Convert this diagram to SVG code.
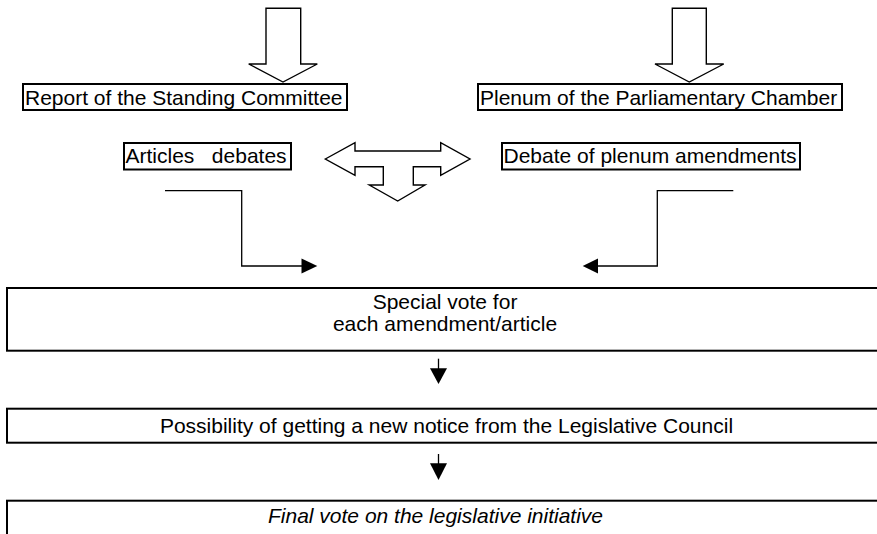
<svg xmlns="http://www.w3.org/2000/svg" width="877" height="534" viewBox="0 0 877 534">
<style>
.box{fill:#fff;stroke:#000;stroke-width:2}
.blk{fill:#fff;stroke:#000;stroke-width:1.4;stroke-linejoin:miter}
.ln{fill:none;stroke:#000;stroke-width:1.3}
.hd{fill:#000;stroke:none}
text{font-family:"Liberation Sans",Arial,sans-serif;font-size:21px;fill:#000}
.c{text-anchor:middle}
</style>
<rect width="877" height="534" fill="#fff"/>
<g id="arrow-in-left"><polygon class="blk" points="266,8.3 300.7,8.3 300.7,64 317.3,64 283,82 248.7,64 266,64"/></g>
<g id="arrow-in-right"><polygon class="blk" points="672.3,8.3 706.3,8.3 706.3,64 723.7,64 689.3,82 655,64 672.3,64"/></g>
<g id="report"><rect class="box" x="23" y="84" width="324" height="26"/><text x="25" y="105">Report of the Standing Committee</text></g>
<g id="plenum"><rect class="box" x="478" y="84" width="364" height="26"/><text x="480" y="105">Plenum of the Parliamentary Chamber</text></g>
<g id="articles"><rect class="box" x="124" y="143" width="167" height="26.5"/><text x="125.5" y="163" xml:space="preserve" style="white-space:pre">Articles   debates</text></g>
<g id="debate"><rect class="box" x="502" y="143" width="298" height="26.5"/><text x="503.5" y="163">Debate of plenum amendments</text></g>
<g id="t-arrow"><polygon class="blk" points="325.3,159 355,142.7 355,151 440.7,151 440.7,142.7 470,159 440.7,175.3 440.7,166.7 413.3,166.7 413.3,185 425,185 397.7,201 369.3,185 383.3,185 383.3,166.7 355,166.7 355,175.3"/></g>
<g id="special-vote"><rect class="box" x="7" y="288" width="880" height="62.7"/><text class="c" x="445" y="308.5">Special vote for</text><text class="c" x="445" y="331">each amendment/article</text></g>
<g id="possibility"><rect class="box" x="7" y="408.7" width="880" height="34"/><text class="c" x="446.5" y="432.5">Possibility of getting a new notice from the Legislative Council</text></g>
<g id="final-vote"><rect class="box" x="7" y="500.7" width="880" height="50"/><text x="268" y="523.3" font-style="italic">Final vote on the legislative initiative</text></g>
<g id="connectors">
<path class="ln" d="M165,190.7 H241.7 V266 H303"/>
<polygon class="hd" points="301.5,258.5 317.3,266 301.5,273.5"/>
<path class="ln" d="M733.3,190.7 H657.3 V266 H596"/>
<polygon class="hd" points="598,258.5 582.7,266 598,273.5"/>
<path class="ln" d="M438.5,358.7 V370"/>
<polygon class="hd" points="430,368.3 447,368.3 438.5,384"/>
<path class="ln" d="M438.5,454 V465"/>
<polygon class="hd" points="430,463.3 447,463.3 438.5,480"/>
</g>
</svg>
